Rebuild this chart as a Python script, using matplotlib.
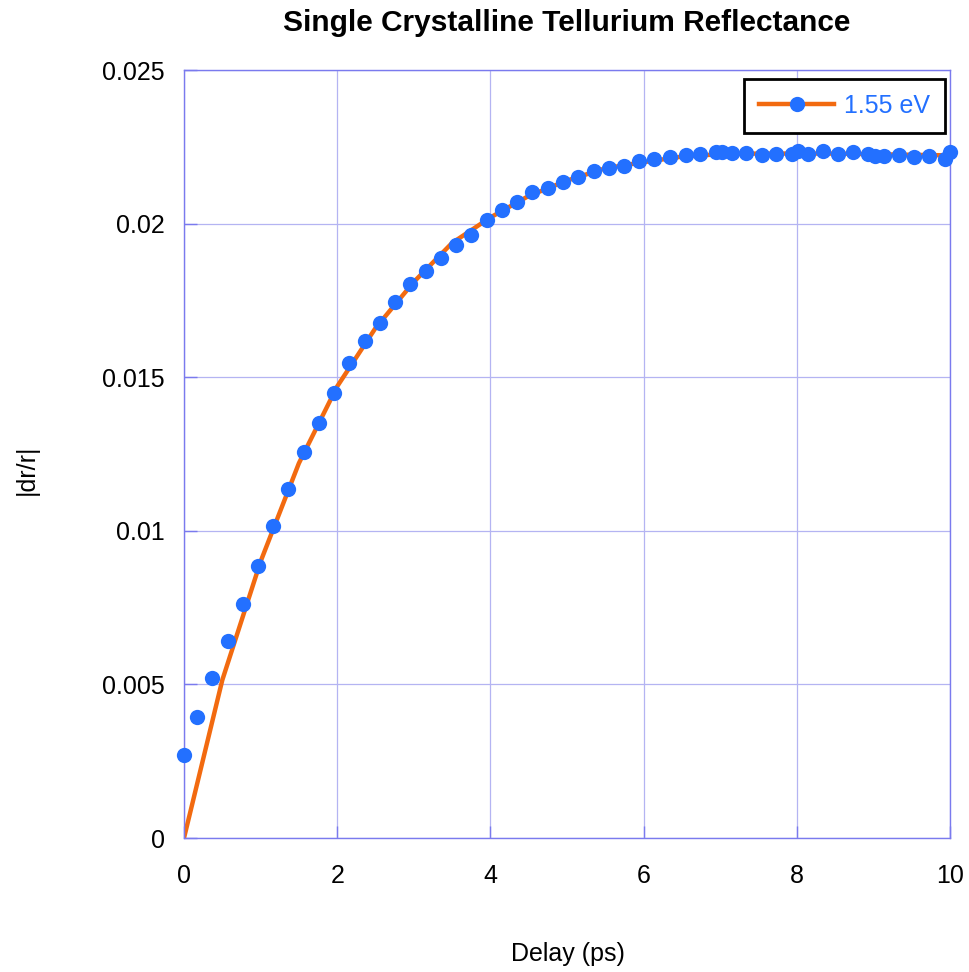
import matplotlib
matplotlib.use("Agg")
import matplotlib.pyplot as plt
from matplotlib.lines import Line2D

plt.rcParams['font.family'] = ['Liberation Sans', 'DejaVu Sans']

# measured points (delay in ps, |dr/r|)
delay = [0.00, 0.17, 0.37, 0.57, 0.77, 0.97, 1.16, 1.36, 1.57, 1.76,
         1.96, 2.15, 2.36, 2.56, 2.75, 2.95, 3.16, 3.36, 3.55, 3.75,
         3.96, 4.15, 4.35, 4.54, 4.75, 4.95, 5.14, 5.35, 5.55, 5.74,
         5.94, 6.14, 6.34, 6.55, 6.74, 6.94, 7.02, 7.15, 7.34, 7.54,
         7.73, 7.94, 8.02, 8.15, 8.34, 8.54, 8.73, 8.93, 9.02, 9.14,
         9.34, 9.53, 9.73, 9.93, 10.0]
drr = [0.00270, 0.00394, 0.00521, 0.00641, 0.00762, 0.00885, 0.01016, 0.01136, 0.01256, 0.01351,
       0.01449, 0.01546, 0.01618, 0.01676, 0.01745, 0.01803, 0.01846, 0.01888, 0.01930, 0.01963,
       0.02012, 0.02044, 0.02070, 0.02103, 0.02116, 0.02135, 0.02152, 0.02171, 0.02181, 0.02188,
       0.02205, 0.02210, 0.02218, 0.02223, 0.02227, 0.02234, 0.02232, 0.02229, 0.02229, 0.02223,
       0.02227, 0.02227, 0.02236, 0.02225, 0.02236, 0.02225, 0.02232, 0.02225, 0.02221, 0.02221,
       0.02223, 0.02217, 0.02219, 0.02210, 0.02232]

# fitted curve
fit_t = [0, 0.5, 1.0, 1.5, 2.0, 2.5, 3.0, 3.5, 4.0, 4.5, 5.0,
         5.5, 6.0, 6.5, 7.0, 7.5, 8.0, 8.5, 9.0, 9.5, 10.0]
fit_y = [0, 0.00514, 0.0090, 0.0122, 0.0147, 0.0166, 0.0181, 0.01937, 0.0202, 0.0209, 0.0214,
         0.0218, 0.0220, 0.02218, 0.02226, 0.02228, 0.02228, 0.02228, 0.02226, 0.02224, 0.02222]

yticks = [0, 0.005, 0.01, 0.015, 0.02, 0.025]
xticks = [0, 2, 4, 6, 8, 10]

orange = '#f26a10'
blue = '#2370ff'
frame = '#7a7aee'

fig = plt.figure(figsize=(9.7, 9.72), dpi=100)
ax = fig.add_axes([184/970, 1-838/972, 766/970, 768/972])

ax.plot(fit_t, fit_y, color=orange, linewidth=3.2, zorder=2)
ax.plot(delay, drr, 'o', color=blue, markersize=11, markeredgewidth=0,
        zorder=3, clip_on=False)

ax.set_xlim(0, 10)
ax.set_ylim(0, 0.025)
ax.set_xticks(xticks)
ax.set_yticks(yticks)
ax.set_yticklabels([f"{v:g}" for v in yticks])
ax.tick_params(axis='both', direction='in', length=9, width=1, color=frame,
               labelsize=18)
ax.tick_params(axis='x', pad=19)
ax.tick_params(axis='y', pad=14)
ax.grid(True, color='#b4b4f2', linewidth=0.9)
for s in ax.spines.values():
    s.set_color(frame)
    s.set_linewidth(1)

ax.set_title("Single Crystalline Tellurium Reflectance", fontsize=21.5,
             fontweight='bold', pad=28)
ax.set_xlabel("Delay (ps)", fontsize=18)
ax.set_ylabel("|dr/r|", fontsize=18)
ax.xaxis.set_label_coords(0.501, -0.136)
ax.yaxis.set_label_coords(-0.19, 0.479)

handle = Line2D([], [], color=orange, linewidth=3.2, marker='o',
                markerfacecolor=blue, markeredgewidth=0, markersize=11)
leg = ax.legend([handle], ["1.55 eV"], loc='upper right', fontsize=18,
                fancybox=False, framealpha=1, edgecolor='black',
                handlelength=3.0, handletextpad=0.4, borderpad=0.6,
                borderaxespad=0, bbox_to_anchor=(0.9935, 0.988))
leg.get_frame().set_linewidth(2)
for t in leg.get_texts():
    t.set_color(blue)

fig.savefig("out.png", dpi=100)
